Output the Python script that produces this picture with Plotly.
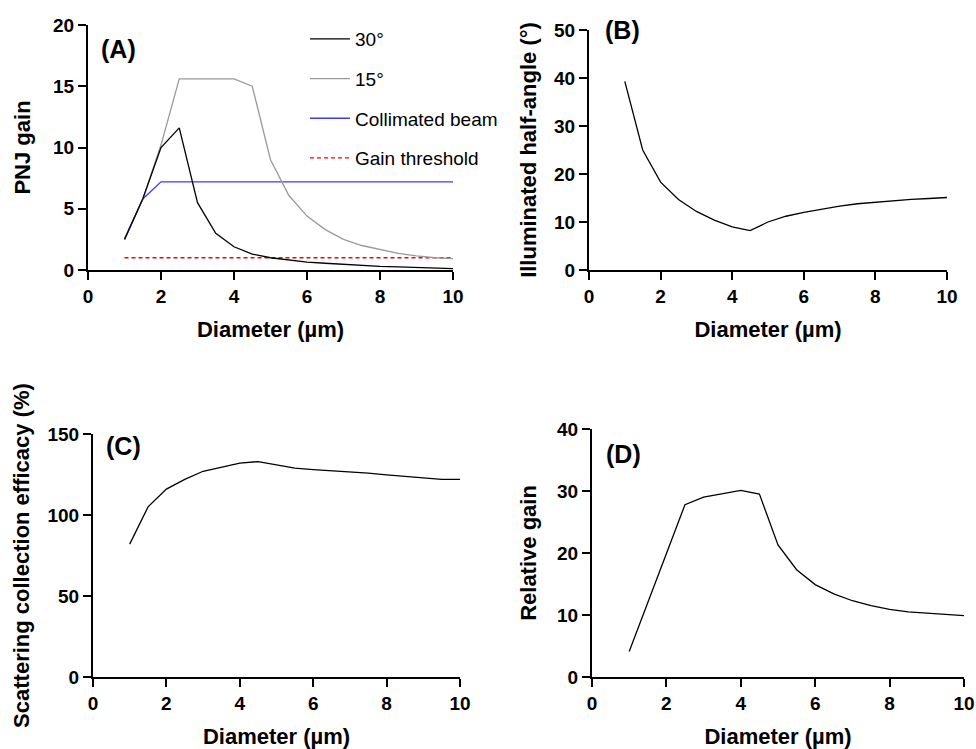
import plotly.graph_objects as go
from plotly.subplots import make_subplots

# ---------------- data ----------------
diameter = [1, 1.5, 2, 2.5, 3, 3.5, 4, 4.5, 5, 5.5, 6, 6.5, 7, 7.5, 8, 8.5, 9, 9.5, 10]

gain_30 = [2.5, 5.8, 10.0, 11.6, 5.5, 3.0, 1.9, 1.3, 1.0, 0.8, 0.65, 0.55, 0.45, 0.37, 0.3, 0.25, 0.2, 0.15, 0.12]
gain_15 = [2.5, 5.8, 10.2, 15.6, 15.6, 15.6, 15.6, 15.0, 9.0, 6.1, 4.4, 3.3, 2.5, 2.0, 1.65, 1.35, 1.15, 1.0, 0.93]
gain_collimated = [2.5, 5.8, 7.2, 7.2, 7.2, 7.2, 7.2, 7.2, 7.2, 7.2, 7.2, 7.2, 7.2, 7.2, 7.2, 7.2, 7.2, 7.2, 7.2]
gain_threshold = [1.0, 1.0, 1.0, 1.0, 1.0, 1.0, 1.0, 1.0, 1.0, 1.0, 1.0, 1.0, 1.0, 1.0, 1.0, 1.0, 1.0, 1.0, 1.0]

half_angle = [39.3, 25.0, 18.3, 14.7, 12.2, 10.4, 9.0, 8.2, 10.0, 11.2, 12.0, 12.7, 13.3, 13.8, 14.1, 14.5, 14.7, 14.9, 15.1]

efficacy = [82, 105, 116, 122, 127, 129.7, 132, 133, 131, 128.9, 128, 127.4, 126.6, 125.8, 124.8, 124, 123.1, 122, 122]

relative_gain = [4.1, 11.9, 19.9, 27.8, 29.0, 29.6, 30.1, 29.5, 21.3, 17.3, 14.9, 13.4, 12.3, 11.5, 10.9, 10.5, 10.3, 10.05, 9.9]

x_ticks = [0, 2, 4, 6, 8, 10]
x_title = "Diameter (µm)"
y_titles = ["PNJ gain", "Illuminated half-angle (°)", "Scattering collection efficacy (%)", "Relative gain"]
y_ranges = [[0, 20], [0, 50], [0, 150], [0, 40]]
y_dticks = [5, 10, 50, 10]
panel_labels = ["(A)", "(B)", "(C)", "(D)"]

FONT = "Liberation Sans, Arial, Helvetica, sans-serif"

fig = make_subplots(rows=2, cols=2)

line_w = 1.3
# Panel A (draw order: threshold, collimated, 15, 30 so black is on top)
fig.add_trace(go.Scatter(x=diameter, y=gain_threshold, mode="lines", name="Gain threshold", legendgroup="d",
                         line=dict(color="#ff0000", width=line_w, dash="4px,3px"), legendrank=4), row=1, col=1)
fig.add_trace(go.Scatter(x=diameter, y=gain_collimated, mode="lines", name="Collimated beam", legendgroup="c",
                         line=dict(color="#3a3aff", width=line_w), legendrank=3), row=1, col=1)
fig.add_trace(go.Scatter(x=diameter, y=gain_15, mode="lines", name="15°", legendgroup="b",
                         line=dict(color="#9a9a9a", width=line_w), legendrank=2), row=1, col=1)
fig.add_trace(go.Scatter(x=diameter, y=gain_30, mode="lines", name="30°", legendgroup="a",
                         line=dict(color="#000000", width=line_w), legendrank=1), row=1, col=1)

fig.add_trace(go.Scatter(x=diameter, y=half_angle, mode="lines", showlegend=False,
                         line=dict(color="#000000", width=line_w)), row=1, col=2)
fig.add_trace(go.Scatter(x=diameter, y=efficacy, mode="lines", showlegend=False,
                         line=dict(color="#000000", width=line_w)), row=2, col=1)
fig.add_trace(go.Scatter(x=diameter, y=relative_gain, mode="lines", showlegend=False,
                         line=dict(color="#000000", width=line_w)), row=2, col=2)

W, H = 976, 749
# pixel boxes of the four plot areas: (left, right, top, bottom)
boxes = [(88, 453, 25, 270), (589, 947, 30, 270), (93, 460, 434, 677), (592, 964, 429, 677)]
y_standoffs = [16, 11, 12, 14]

for i, (l, r, t, b) in enumerate(boxes):
    xa = "xaxis" if i == 0 else f"xaxis{i+1}"
    ya = "yaxis" if i == 0 else f"yaxis{i+1}"
    fig.layout[xa].update(
        domain=[l / W, r / W], range=[0, 10], tickvals=x_ticks,
        showline=True, linecolor="black", linewidth=2, mirror=False,
        ticks="outside", ticklen=8, tickwidth=2, tickcolor="black",
        showgrid=False, zeroline=False, automargin=False,
        tickfont=dict(family=FONT, size=19, color="black", weight="bold"),
        title=dict(text=x_title, standoff=16,
                   font=dict(family=FONT, size=22, color="black", weight="bold")),
    )
    fig.layout[ya].update(
        domain=[1 - b / H, 1 - t / H], range=y_ranges[i], dtick=y_dticks[i], tick0=0,
        showline=True, linecolor="black", linewidth=2,
        ticks="outside", ticklen=8, tickwidth=2, tickcolor="black",
        showgrid=False, zeroline=False, automargin=False,
        tickfont=dict(family=FONT, size=19, color="black", weight="bold"),
        title=dict(text=y_titles[i], standoff=y_standoffs[i],
                   font=dict(family=FONT, size=22, color="black", weight="bold")),
    )

label_pos = [(0.030, 0.902), (0.039, 1.0), (0.030, 0.951), (0.032, 0.899)]
for i, (lx, ly) in enumerate(label_pos):
    sx = "" if i == 0 else str(i + 1)
    fig.add_annotation(text=panel_labels[i], xref=f"x{sx} domain", yref=f"y{sx} domain",
                       x=lx, y=ly, xanchor="left", yanchor="middle", showarrow=False,
                       font=dict(family=FONT, size=25, color="black", weight="bold"))

fig.update_layout(
    width=W, height=H, margin=dict(l=0, r=0, t=0, b=0, autoexpand=False),
    paper_bgcolor="white", plot_bgcolor="white",
    showlegend=True,
    legend=dict(x=305 / W, y=1 - 20 / H, xanchor="left", yanchor="top",
                bgcolor="rgba(0,0,0,0)", font=dict(family=FONT, size=19, color="black"),
                tracegroupgap=12, itemwidth=40),
)

fig.write_html("out.html", config={"displayModeBar": False},
               post_script="document.body.style.margin='0';document.body.style.overflow='hidden';")
